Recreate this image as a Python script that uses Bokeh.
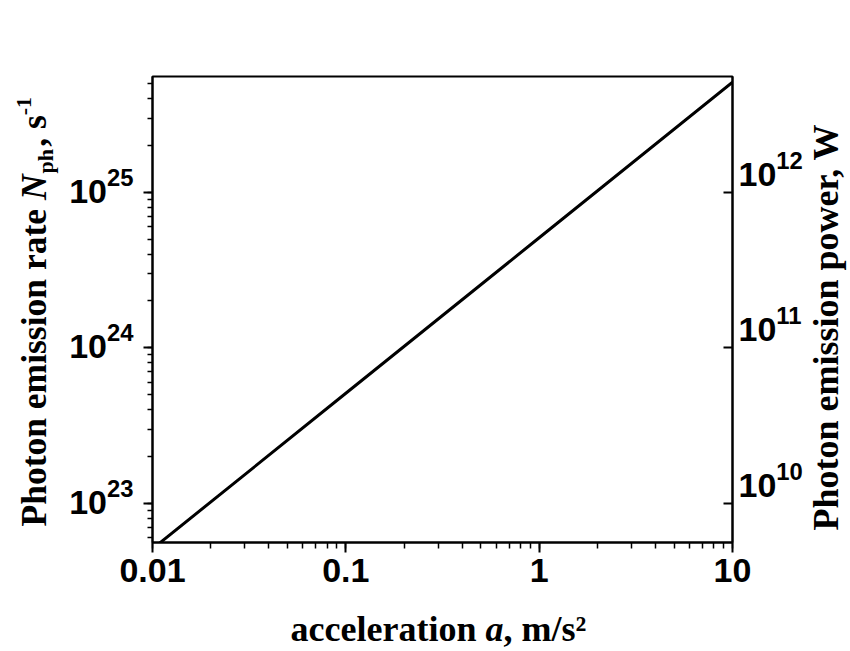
import math
from bokeh.plotting import figure
from bokeh.models import Range1d, LogAxis, Label, CustomJSTickFormatter, LogTicker
from bokeh.embed import file_html
from bokeh.resources import INLINE

# ---- data ----
acceleration = [0.01, 0.1, 1.0, 10.0]            # m/s^2
emission_rate = [5.1e22, 5.1e23, 5.1e24, 5.1e25]  # s^-1
x_limits = [0.01, 10.0]
rate_limits = [5.6e22, 5.55e25]
power_limits = [5.6e9, 5.55e12]

# ---- layout (canvas pixels) ----
W, H = 850, 651
FL, FR, FT, FB = 152, 732, 76, 542
left_label_shift = 1.11
right_label_shift = 1.43

p = figure(width=W, height=H, x_axis_type="log", y_axis_type="log",
           x_range=Range1d(*x_limits), y_range=Range1d(*rate_limits),
           output_backend="svg", toolbar_location=None,
           frame_width=FR - FL, frame_height=FB - FT,
           min_border_left=FL, min_border_right=W - FR,
           min_border_top=FT, min_border_bottom=H - FB)
p.grid.visible = False
p.outline_line_color = "black"
p.outline_line_width = 2
p.background_fill_color = "white"
p.border_fill_color = "white"

p.line(acceleration, emission_rate, line_width=3, line_color="black")

TICK_FONT = "Liberation Sans"
TITLE_FONT = "Liberation Serif"

def style_axis(ax):
    ax.axis_line_width = 2
    ax.axis_line_color = "black"
    ax.major_tick_line_width = 2
    ax.minor_tick_line_width = 1.5
    ax.major_tick_line_color = "black"
    ax.minor_tick_line_color = "black"
    ax.major_label_text_font = TICK_FONT
    ax.major_label_text_font_style = "bold"
    ax.major_label_text_font_size = "34px"
    ax.major_label_text_color = "black"

def labels_only(ax, standoff):
    style_axis(ax)
    ax.axis_line_color = None
    ax.major_tick_line_color = None
    ax.minor_tick_line_color = None
    ax.major_tick_in = ax.major_tick_out = 0
    ax.minor_tick_in = ax.minor_tick_out = 0
    ax.major_label_standoff = standoff

blank = CustomJSTickFormatter(code="return '';")

# bottom axis
xa = p.xaxis[0]
style_axis(xa)
xa.ticker = LogTicker(num_minor_ticks=10)
xa.formatter = CustomJSTickFormatter(code="return Number(tick.toPrecision(3)).toString();")
xa.major_tick_out = 10
xa.major_tick_in = 0
xa.minor_tick_out = 6
xa.minor_tick_in = 0
xa.major_label_standoff = 6

p.extra_y_ranges = {
    "rate_lab": Range1d(rate_limits[0] / left_label_shift, rate_limits[1] / left_label_shift),
    "power": Range1d(*power_limits),
    "power_lab": Range1d(power_limits[0] / right_label_shift, power_limits[1] / right_label_shift),
}

# left axis: ticks, then labels
ya = p.yaxis[0]
style_axis(ya)
ya.ticker = LogTicker(num_minor_ticks=10)
ya.formatter = blank
ya.major_tick_out = 9
ya.major_tick_in = 0
ya.minor_tick_out = 5
ya.minor_tick_in = 0
ya.major_label_standoff = 0

yl = LogAxis(y_range_name="rate_lab", ticker=LogTicker(num_minor_ticks=0))
labels_only(yl, 10)
p.add_layout(yl, "left")

# right axis: ticks, then labels
rt = LogAxis(y_range_name="power", ticker=LogTicker(num_minor_ticks=0), formatter=blank)
style_axis(rt)
rt.major_tick_in = 9
rt.major_tick_out = 0
rt.minor_tick_in = 0
rt.minor_tick_out = 0
rt.major_label_standoff = 0
p.add_layout(rt, "right")

rl = LogAxis(y_range_name="power_lab", ticker=LogTicker(num_minor_ticks=0))
labels_only(rl, 6)
p.add_layout(rl, "right")

# ---- axis titles: styled pieces placed outside the frame ----
LX0, LX1 = math.log10(x_limits[0]), math.log10(x_limits[1])
LY0, LY1 = math.log10(rate_limits[0]), math.log10(rate_limits[1])

def xd(px):
    return 10 ** (LX0 + (px - FL) / (FR - FL) * (LX1 - LX0))

def yd(py):
    return 10 ** (LY0 + (FB - py) / (FB - FT) * (LY1 - LY0))

MID = 0.33  # the label is anchored about a third of the size below the baseline

def piece(side, px, py, text, size, style="bold", angle=0.0):
    # (px, py) is the wanted baseline start; shift towards the text's top
    off = MID * size
    if angle:
        px -= off
    else:
        py -= off
    p.add_layout(Label(x=xd(px), y=yd(py), text=text,
                       angle=angle, text_font=TITLE_FONT, text_font_style=style,
                       text_font_size=f"{size}px", text_color="black",
                       text_baseline="alphabetic", text_align="left"), side)

NB = "\u00a0"
A = math.pi / 2

# x title: "acceleration a, m/s²" (italic a drawn separately)
S = 36
x0, yb = 290, 640
piece("below", x0, yb, "acceleration " + NB * 2 + ", m/s\u00b2", S)
piece("left", x0 + 5.415 * S, yb, "a", S, "bold italic")

# left title: "Photon emission rate N_ph, s^-1" (reads upwards)
SL = 35.5
xb, y0 = 45, 526
piece("left", xb, y0, "Photon emission rate " + NB * 3 + NB * 3 + ", s", SL, angle=A)
yN = y0 - 9.194 * SL
piece("above", xb, yN, "N", SL, "bold italic", angle=A)
yph = yN - 0.75 * SL
piece("above", xb + 7, yph, "ph", 22, angle=A)
ym1 = yph - 0.75 * SL - 0.889 * SL
piece("above", xb - 14, ym1, "-1", 22, angle=A)

# right title
piece("right", 837, 530, "Photon emission power, W", 36, angle=A)

open("out.html", "w").write(file_html(p, INLINE))
